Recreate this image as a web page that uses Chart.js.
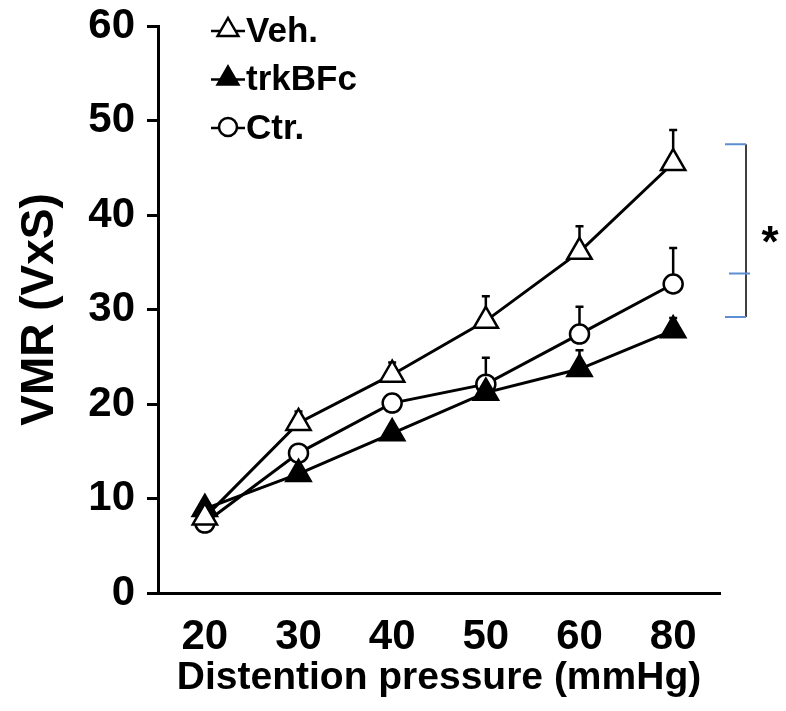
<!DOCTYPE html>
<html>
<head>
<meta charset="utf-8">
<script src="https://cdn.jsdelivr.net/npm/chart.js@4.4.1/dist/chart.umd.min.js"></script>
<style>
  html, body { margin: 0; padding: 0; background: #fff; }
</style>
</head>
<body>
<canvas id="myChart" width="786" height="711"></canvas>
<script>
const pressures = ['20', '30', '40', '50', '60', '80'];
const vehMean = [8.0, 18.0, 23.1, 28.8, 36.1, 45.5];
const vehErr  = [0.8, 1.2, 1.3, 2.6, 2.7, 3.5];
const trkMean = [8.9, 12.6, 16.9, 21.2, 23.7, 27.8];
const trkErr  = [0.8, 0.4, 0.6, 0.8, 2.0, 1.3];
const ctrMean = [7.4, 14.8, 20.1, 22.1, 27.4, 32.7];
const ctrErr  = [0.5, 0.7, 0.8, 2.8, 2.9, 3.8];
const yTicks = [0, 10, 20, 30, 40, 50, 60];
const legendNames = ['Veh.', 'trkBFc', 'Ctr.'];
// significance bracket: top, middle, bottom (VMR units)
const bracketLevels = [47.5, 33.8, 29.2];

const FONT = 'Liberation Sans, Arial, Helvetica, sans-serif';
const ctx = document.getElementById('myChart').getContext('2d');

// upward-only error bars, drawn under the markers
const errorBars = {
    id: 'errorBars',
    beforeDatasetsDraw(chart) {
        const c = chart.ctx;
        const y = chart.scales.y;
        c.save();
        c.strokeStyle = '#000';
        c.lineWidth = 2.5;
        chart.data.datasets.forEach((ds, di) => {
            const meta = chart.getDatasetMeta(di);
            meta.data.forEach((pt, i) => {
                const top = y.getPixelForValue(ds.data[i] + ds.errors[i]);
                c.beginPath();
                c.moveTo(pt.x, pt.y);
                c.lineTo(pt.x, top);
                c.moveTo(pt.x - 4, top);
                c.lineTo(pt.x + 4, top);
                c.stroke();
            });
        });
        c.restore();
    }
};

function marker(c, style, fill, x, y, r) {
    c.beginPath();
    if (style === 'triangle') {
        c.moveTo(x, y - r);
        c.lineTo(x + r * 0.866, y + r * 0.5);
        c.lineTo(x - r * 0.866, y + r * 0.5);
        c.closePath();
    } else {
        c.arc(x, y, r * 0.75, 0, Math.PI * 2);
    }
    c.fillStyle = fill;
    c.fill();
    c.stroke();
}

// legend in the top-left corner and the significance bracket
const extras = {
    id: 'extras',
    afterDraw(chart) {
        const c = chart.ctx;
        const area = chart.chartArea;
        c.save();
        c.strokeStyle = '#000';
        c.lineWidth = 2.5;
        chart.data.datasets.forEach((ds, i) => {
            const ly = area.top + 5 + i * 48.5;
            const lx = area.left + 53;
            c.beginPath();
            c.moveTo(lx, ly);
            c.lineTo(lx + 34, ly);
            c.stroke();
            marker(c, ds.pointStyle, ds.pointBackgroundColor, lx + 17, ly - 1, 12);
            c.fillStyle = '#000';
            c.font = 'bold 35px ' + FONT;
            c.textBaseline = 'middle';
            c.textAlign = 'left';
            c.fillText(legendNames[i], lx + 35, ly + 1);
        });

        const y = chart.scales.y;
        const bx = area.right + 26;
        const [yTop, yMid, yBot] = bracketLevels.map(v => y.getPixelForValue(v));
        c.lineWidth = 1.5;
        c.strokeStyle = '#000';
        c.beginPath();
        c.moveTo(bx, yTop);
        c.lineTo(bx, yBot);
        c.stroke();
        c.strokeStyle = '#5b8fd0';
        c.lineWidth = 2;
        c.beginPath();
        c.moveTo(bx - 21, yTop); c.lineTo(bx, yTop);
        c.moveTo(bx - 17, yMid); c.lineTo(bx + 4, yMid);
        c.moveTo(bx - 21, yBot); c.lineTo(bx, yBot);
        c.stroke();
        c.fillStyle = '#000';
        c.font = 'bold 44px ' + FONT;
        c.textAlign = 'center';
        c.textBaseline = 'middle';
        c.fillText('*', bx + 24, (yTop + yBot) / 2 + 14);
        c.restore();
    }
};

function series(data, errors, style, fill) {
    return {
        data: data,
        errors: errors,
        borderColor: '#000',
        borderWidth: 3,
        pointStyle: style,
        pointRadius: style === 'triangle' ? 14 : 9.5,
        pointBackgroundColor: fill,
        pointBorderColor: '#000',
        pointBorderWidth: 2.5,
        tension: 0
    };
}

const tickFont = { family: FONT, size: 42, weight: 'bold' };

const myChart = new Chart(ctx, {
    type: 'line',
    data: {
        labels: pressures,
        datasets: [
            series(vehMean, vehErr, 'triangle', '#fff'),
            series(trkMean, trkErr, 'triangle', '#000'),
            series(ctrMean, ctrErr, 'circle', '#fff')
        ]
    },
    options: {
        responsive: false,
        animation: false,
        layout: { padding: { top: 26, right: 66, left: 0, bottom: 0 } },
        plugins: { legend: { display: false }, tooltip: { enabled: false } },
        scales: {
            x: {
                offset: true,
                grid: { display: false, drawTicks: false },
                border: { display: true, color: '#000', width: 3 },
                ticks: { color: '#000', font: tickFont, padding: 19 },
                title: {
                    display: true, text: 'Distention pressure (mmHg)', color: '#000',
                    font: { family: FONT, size: 39, weight: 'bold' }, padding: { bottom: 9 }
                },
                afterFit(s) { s.height = 118; }
            },
            y: {
                min: 0,
                max: 60,
                afterBuildTicks(s) { s.ticks = yTicks.map(v => ({ value: v })); },
                grid: { drawOnChartArea: false, drawTicks: true, tickLength: 11, color: '#000', lineWidth: 3 },
                border: { display: true, color: '#000', width: 3 },
                ticks: { color: '#000', font: tickFont, padding: 12 },
                title: {
                    display: true, text: 'VMR (VxS)', color: '#000',
                    font: { family: FONT, size: 46, weight: 'bold' }, padding: { top: 13 }
                },
                afterFit(s) {
                    s.width = 158;
                    s.paddingTop = 0;
                    s.paddingBottom = 0;
                }
            }
        }
    },
    plugins: [errorBars, extras]
});
</script>
</body>
</html>
